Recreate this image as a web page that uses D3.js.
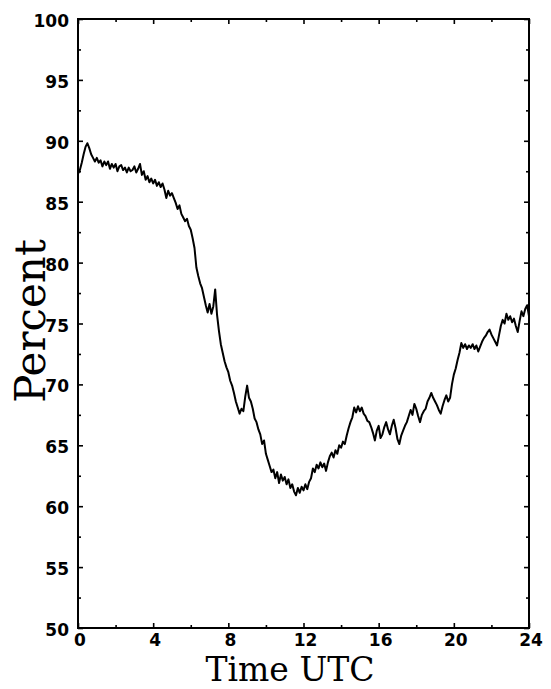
<!DOCTYPE html>
<html>
<head>
<meta charset="utf-8">
<script src="https://cdn.jsdelivr.net/npm/d3@7/dist/d3.min.js"></script>
<style>
  html, body { margin: 0; padding: 0; background: #fff; }
  svg { display: block; }
</style>
</head>
<body>
<svg id="chart" width="551" height="689"></svg>
<script>
// ---- data ----
const xTickValues = [0, 4, 8, 12, 16, 20, 24];
const xMinorTicks = [2, 6, 10, 14, 18, 22];
const yTickValues = [50, 55, 60, 65, 70, 75, 80, 85, 90, 95, 100];
const yMinorTicks = [52.5, 57.5, 62.5, 67.5, 72.5, 77.5, 82.5, 87.5, 92.5, 97.5];
const xLabel = "Time UTC";
const yLabel = "Percent";
const sampleStepHours = 0.1;
const percentValues = [
  87.3, 87.6, 88.2, 88.9, 89.5, 89.8, 89.4, 88.9, 88.6, 88.3,
  88.6, 88.2, 88.4, 87.9, 88.3, 88.0, 88.3, 87.7, 88.1, 87.8,
  88.1, 87.5, 87.9, 88.0, 87.6, 87.8, 87.4, 87.8, 87.5, 87.6,
  87.9, 87.4, 87.7, 88.1, 87.2, 87.5, 86.8, 87.1, 86.6, 86.9,
  86.5, 86.8, 86.3, 86.6, 86.2, 86.5, 86.0, 85.3, 85.9, 85.5,
  85.7, 85.3, 84.9, 84.4, 84.7, 84.0, 83.7, 83.4, 83.6, 83.0,
  82.7, 82.0, 81.2, 79.6, 78.9, 78.3, 77.9, 77.2, 76.5, 75.9,
  76.6, 75.8, 76.4, 77.8, 75.7, 74.4, 73.3, 72.6, 71.9, 71.4,
  71.0, 70.3, 69.9, 69.3, 68.6, 68.1, 67.6, 68.0, 67.8, 69.0,
  69.9, 68.9, 68.6, 68.0, 67.2, 66.9, 66.3, 65.9, 65.1, 65.4,
  64.3, 63.8, 63.3, 62.8, 63.0, 62.3, 62.8, 61.9, 62.6, 62.1,
  62.4, 61.8, 62.2, 61.5, 61.8, 61.2, 60.9, 61.5, 61.1, 61.6,
  61.3, 61.8, 61.4, 62.0, 62.3, 63.1, 62.8, 63.4, 63.1, 63.6,
  63.2, 63.5, 62.9, 63.6, 64.1, 64.4, 64.0, 64.6, 64.3, 65.0,
  64.8, 65.3, 65.1, 65.8, 66.4, 66.9, 67.3, 68.1, 67.7, 68.2,
  67.8, 68.1, 67.6, 67.4, 67.0, 66.9, 66.5, 66.0, 65.4, 66.2,
  66.6, 65.6, 65.9, 66.5, 66.9, 66.3, 65.9, 66.6, 67.1, 66.4,
  65.5, 65.1, 65.8, 66.2, 66.6, 66.9, 67.4, 67.9, 67.5, 68.4,
  68.0, 67.4, 66.9, 67.5, 67.8, 68.0, 68.6, 68.9, 69.3, 68.9,
  68.6, 68.3, 67.9, 67.6, 68.2, 68.7, 69.1, 68.6, 68.9, 70.0,
  70.8, 71.3, 72.0, 72.6, 73.4, 73.0, 73.3, 72.9, 73.2, 73.0,
  73.3, 72.9, 73.2, 72.7, 73.1, 73.5, 73.8, 74.0, 74.3, 74.5,
  74.1, 73.8, 73.5, 73.2, 74.0, 74.8, 75.3, 75.0, 75.8, 75.3,
  75.6, 75.1, 75.4, 74.8, 74.3, 75.2, 76.0, 75.6, 76.2, 76.5,
  75.6
];

// ---- layout ----
const svg = d3.select("#chart");
const plotLeft = 78, plotRight = 529, plotTop = 19, plotBottom = 628;

const x = d3.scaleLinear().domain([0, 24]).range([plotLeft, plotRight]);
const y = d3.scaleLinear().domain([50, 100]).range([plotBottom, plotTop]);

const series = percentValues.map((v, i) => ({ h: i * sampleStepHours, v }));

// data line
const line = d3.line().x(d => x(d.h)).y(d => y(d.v));
svg.append("path")
  .datum(series)
  .attr("fill", "none")
  .attr("stroke", "#000")
  .attr("stroke-width", 2)
  .attr("stroke-linejoin", "round")
  .attr("d", line);

// frame
svg.append("rect")
  .attr("x", plotLeft).attr("y", plotTop)
  .attr("width", plotRight - plotLeft).attr("height", plotBottom - plotTop)
  .attr("fill", "none").attr("stroke", "#000").attr("stroke-width", 2);

// axes with inward ticks
function addAxis(axisFn, scale, vals, size, transform) {
  const g = svg.append("g").attr("transform", transform)
    .call(axisFn(scale).tickValues(vals).tickSize(size).tickFormat(""));
  g.select(".domain").remove();
  g.selectAll(".tick line").attr("stroke", "#000").attr("stroke-width", 1.6);
  return g;
}
addAxis(d3.axisBottom, x, xTickValues, -5, `translate(0,${plotBottom})`);
addAxis(d3.axisBottom, x, xMinorTicks, -3, `translate(0,${plotBottom})`);
addAxis(d3.axisTop, x, xTickValues, -5, `translate(0,${plotTop})`);
addAxis(d3.axisTop, x, xMinorTicks, -3, `translate(0,${plotTop})`);
addAxis(d3.axisLeft, y, yTickValues, -5, `translate(${plotLeft},0)`);
addAxis(d3.axisLeft, y, yMinorTicks, -3, `translate(${plotLeft},0)`);
addAxis(d3.axisRight, y, yTickValues, -5, `translate(${plotRight},0)`);
addAxis(d3.axisRight, y, yMinorTicks, -3, `translate(${plotRight},0)`);

// tick labels
svg.append("g").selectAll("text")
  .data(yTickValues).join("text")
  .attr("x", 69)
  .attr("y", d => y(d) + 8)
  .attr("text-anchor", "end")
  .attr("font-family", "DejaVu Sans")
  .attr("font-weight", "bold")
  .attr("font-size", 17)
  .text(d => d);

svg.append("g").selectAll("text")
  .data(xTickValues).join("text")
  .attr("x", d => x(d) + 2)
  .attr("y", 646)
  .attr("text-anchor", "middle")
  .attr("font-family", "DejaVu Sans")
  .attr("font-weight", "bold")
  .attr("font-size", 17)
  .text(d => d);

// axis titles
svg.append("text")
  .attr("x", 290).attr("y", 681)
  .attr("text-anchor", "middle")
  .attr("font-family", "DejaVu Serif")
  .attr("font-size", 33)
  .text(xLabel);

svg.append("text")
  .attr("transform", "translate(45,321) rotate(-90)")
  .attr("text-anchor", "middle")
  .attr("font-family", "DejaVu Serif")
  .attr("font-size", 42)
  .text(yLabel);
</script>
</body>
</html>
